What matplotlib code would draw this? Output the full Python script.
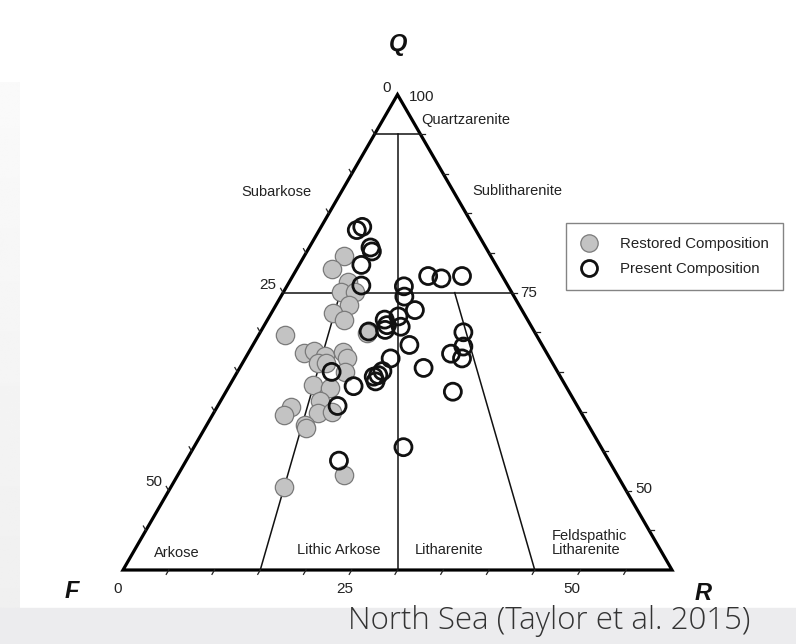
import numpy as np
import matplotlib.pyplot as plt
from matplotlib.patches import Polygon, Rectangle
from matplotlib.lines import Line2D

plt.rcParams['font.family'] = ['Liberation Sans', 'DejaVu Sans']

# Folk QFR diagram, zoomed: Q runs 40..100, F and R run 0..60
Q_MIN = 40.0
SPAN = 100.0 - Q_MIN
H = np.sqrt(3) / 2

# restored composition (%)
restored_q = [79.6, 78.0, 76.3, 75.1, 75.1, 73.5, 72.4, 71.5, 69.6, 69.9, 67.4, 67.7, 67.0, 67.5, 66.7,
              66.1, 66.1, 65.0, 63.4, 63.0, 61.3, 59.8, 59.9, 60.6, 59.5, 58.3, 57.9, 52.0, 50.5]
restored_f = [16.1, 18.2, 17.3, 18.6, 17.1, 18.6, 20.8, 20.1, 27.5, 18.4, 26.5, 25.3, 24.4, 22.2, 22.2,
              25.6, 24.8, 23.2, 27.5, 25.9, 27.8, 28.8, 27.2, 31.3, 32.7, 31.0, 31.0, 29.9, 37.1]
restored_r = [4.3, 3.8, 6.4, 6.3, 7.8, 7.9, 6.8, 8.4, 2.9, 11.7, 6.1, 7.0, 8.6, 10.3, 11.1,
              8.3, 9.1, 11.8, 9.1, 11.1, 10.9, 11.4, 12.9, 8.1, 7.8, 10.7, 11.1, 18.1, 12.4]

# present composition (%)
present_q = [82.9, 83.3, 80.7, 80.2, 78.5, 77.1, 76.8, 77.1, 75.9, 75.8, 74.5, 72.8, 71.6, 70.9, 70.3,
             70.7, 72.0, 70.1, 70.0, 68.2, 68.4, 67.3, 66.7, 66.7, 65.5, 65.0, 64.4, 64.6, 65.1, 63.8,
             63.2, 62.5, 60.7, 55.5, 53.8]
present_f = [13.0, 12.2, 12.6, 12.7, 14.7, 8.1, 6.8, 4.4, 16.0, 11.4, 12.0, 11.7, 15.6, 15.7, 16.2,
             14.3, 13.9, 18.1, 7.8, 8.7, 14.5, 10.5, 9.6, 17.4, 14.4, 24.7, 20.4, 19.8, 19.1, 20.5,
             23.2, 12.7, 26.2, 21.6, 29.5]
present_r = [4.1, 4.5, 6.7, 7.1, 6.8, 14.8, 16.4, 18.5, 8.1, 12.8, 13.5, 15.5, 12.8, 13.4, 13.5,
             15.0, 14.1, 11.8, 22.2, 23.1, 17.1, 22.2, 23.7, 15.9, 20.1, 10.3, 15.2, 15.6, 15.8, 15.7,
             13.6, 24.8, 13.1, 22.9, 16.7]

# classification boundaries, (Q, F, R) end points
boundaries = [
    ((95, 5, 0), (95, 0, 5)),
    ((75, 25, 0), (75, 0, 25)),
    ((95, 2.5, 2.5), (40, 30, 30)),
    ((75, 18.75, 6.25), (40, 45, 15)),
    ((75, 6.25, 18.75), (40, 15, 45)),
]
tick_vals = np.arange(5, 60, 5)


def tern(q, f, r):
    q, f, r = (np.asarray(v, float) for v in (q, f, r))
    tot = (q + f + r - Q_MIN) / SPAN
    qq = (q - Q_MIN) / SPAN / tot
    rr = r / SPAN / tot
    return rr + qq / 2, qq * H


# layout in pixels of the 796x644 canvas
W, HT = 796, 644
F_PX, R_PX, BASE_PX = 123, 672, 570
S = R_PX - F_PX


def px(x, y):
    return (x - F_PX) / S, (BASE_PX - y) / S


fig = plt.figure(figsize=(W / 100, HT / 100), dpi=100)
ax = fig.add_axes([0, 0, 1, 1])
x0, y1 = px(0, 0)
x1, y0 = px(W, HT)
ax.set_xlim(x0, x1)
ax.set_ylim(y0, y1)
ax.axis('off')

# slide background
grad = np.linspace(0.98, 0.94, 200).reshape(-1, 1)
gx0, gy0 = px(0, 82)
gx1, gy1 = px(20, 608)
ax.imshow(grad, cmap='gray', vmin=0, vmax=1, extent=(gx0, gx1, gy1, gy0), aspect='auto', zorder=0)
bx0, by0 = px(0, 644)
bx1, by1 = px(796, 608)
ax.add_patch(Rectangle((bx0, by0), bx1 - bx0, by1 - by0, color='#ececee', zorder=0))

# triangle and boundaries
ax.add_patch(Polygon([(0, 0), (1, 0), (0.5, H)], closed=True, fill=False,
                     edgecolor='black', linewidth=2.3, joinstyle='miter', zorder=2))
for a, b in boundaries:
    xa, ya = tern(*a)
    xb, yb = tern(*b)
    ax.plot([xa, xb], [ya, yb], color='#111111', linewidth=1.1, zorder=2)

# ticks every 5 %
tl = 5 / S
for v in tick_vals:
    # bottom (R)
    xb, yb = tern(Q_MIN, SPAN - v, v)
    ax.plot([xb, xb - 0.5 * tl], [yb, yb - H * tl], color='#222', lw=0.9, zorder=2)
    # left (F)
    xl, yl = tern(100 - v, v, 0)
    ax.plot([xl, xl - 0.5 * tl], [yl, yl + H * tl], color='#222', lw=0.9, zorder=2)
    # right (Q)
    xr, yr = tern(Q_MIN + v, 0, SPAN - v)
    ax.plot([xr, xr + tl], [yr, yr], color='#222', lw=0.9, zorder=2)

# points
xr_, yr_ = tern(restored_q, restored_f, restored_r)
ax.scatter(xr_, yr_, s=175, facecolor='#c3c3c3', edgecolor='#7a7a7a', linewidth=0.9, zorder=3)
xp_, yp_ = tern(present_q, present_f, present_r)
ax.scatter(xp_, yp_, s=150, facecolor='none', edgecolor='#111111', linewidth=2.0, zorder=4)

# axis labels
tick_kw = dict(fontsize=11, color='#222222', ha='center', va='center')
for txt, (x, y) in [('0', (387, 88)), ('25', (268, 285)), ('50', (154, 482)),
                    ('100', (422, 97)), ('75', (529, 293)), ('50', (644, 489)),
                    ('0', (118, 589)), ('25', (345, 589)), ('50', (572, 589))]:
    ax.text(*px(x, y), txt, **tick_kw)

pole_kw = dict(fontsize=17, fontweight='bold', fontstyle='italic', color='#111111',
               ha='center', va='center')
ax.text(*px(398, 45), 'Q', **pole_kw)
ax.text(*px(72, 592), 'F', **pole_kw)
ax.text(*px(703, 594), 'R', **pole_kw)

# field names
field_kw = dict(fontsize=10.5, color='#222222', va='center')
ax.text(*px(466, 120), 'Quartzarenite', ha='center', **field_kw)
ax.text(*px(276, 192), 'Subarkose', ha='center', **field_kw)
ax.text(*px(517, 191), 'Sublitharenite', ha='center', **field_kw)
ax.text(*px(177, 553), 'Arkose', ha='center', **field_kw)
ax.text(*px(339, 550), 'Lithic Arkose', ha='center', **field_kw)
ax.text(*px(449, 550), 'Litharenite', ha='center', **field_kw)
ax.text(*px(552, 543), 'Feldspathic\nLitharenite', ha='left', linespacing=1.05, **field_kw)

# legend
handles = [
    Line2D([], [], linestyle='none', marker='o', markersize=12.5, markerfacecolor='#c3c3c3',
           markeredgecolor='#7a7a7a', markeredgewidth=0.9, label='Restored Composition'),
    Line2D([], [], linestyle='none', marker='o', markersize=11.5, markerfacecolor='none',
           markeredgecolor='#111111', markeredgewidth=2.0, label='Present Composition'),
]
leg = ax.legend(handles=handles, loc='upper left', bbox_to_anchor=(566 / W, 1 - 223 / HT),
                bbox_transform=fig.transFigure, borderaxespad=0, fontsize=10.8,
                frameon=True, fancybox=False, edgecolor='#666666', borderpad=0.95,
                labelspacing=0.7, handlelength=1.2, handletextpad=1.45)
leg.get_frame().set_linewidth(1.0)
for t in leg.get_texts():
    t.set_color('#222222')

# caption
ax.text(*px(549, 621), 'North Sea (Taylor et al. 2015)', fontsize=22.5, color='#333333',
        ha='center', va='center', family=['Open Sans', 'DejaVu Sans'], fontweight='light')

fig.savefig('out.png', dpi=100)
